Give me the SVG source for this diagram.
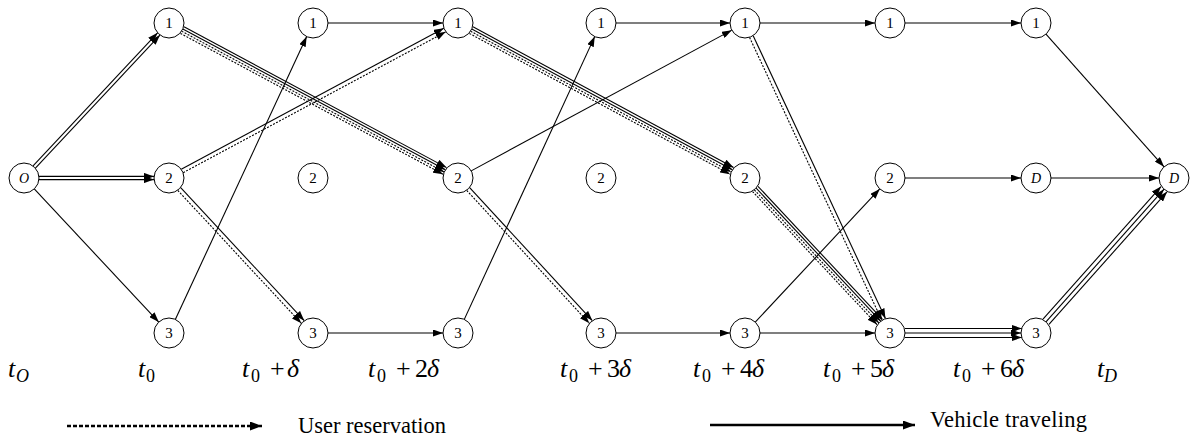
<svg xmlns="http://www.w3.org/2000/svg" width="1192" height="436" viewBox="0 0 1192 436">
<style>
.n circle{fill:#fff;stroke:#000;stroke-width:1}
.n text{font-family:'Times New Roman','Liberation Serif','DejaVu Serif',serif;font-size:15px;text-anchor:middle;fill:#000}
.n text.i{font-style:italic;font-size:14px}
.e{stroke:#000;stroke-width:1.1;fill:none;marker-end:url(#ah)}
.d{stroke-dasharray:2 1.4}
.tl{font-family:'Times New Roman','Liberation Serif','DejaVu Serif',serif;font-size:26px;fill:#000}
.it{font-style:italic}
.sub{font-size:18px}
.lg{font-family:'Times New Roman','Liberation Serif','DejaVu Serif',serif;font-size:22.5px;fill:#000}
</style>
<defs>
<marker id="ah" viewBox="0 0 10 7" refX="10" refY="3.5" markerWidth="10" markerHeight="7" markerUnits="userSpaceOnUse" orient="auto"><path d="M0,0 L10,3.5 L0,7 Z" fill="#000"/></marker>
<marker id="ahL" viewBox="0 0 12 9" refX="12" refY="4.5" markerWidth="12" markerHeight="9" markerUnits="userSpaceOnUse" orient="auto"><path d="M0,0 L12,4.5 L0,9 Z" fill="#000"/></marker>
</defs>
<g id="connectors">
<line class="e" x1="33.08" y1="165.96" x2="157.58" y2="32.86"/>
<line class="e" x1="35.42" y1="168.14" x2="159.92" y2="35.04"/>
<line class="e" x1="39" y1="176.4" x2="154" y2="176.4"/>
<line class="e" x1="39" y1="179.6" x2="154" y2="179.6"/>
<line class="e" x1="34.25" y1="188.95" x2="158.75" y2="322.05"/>
<line class="e" x1="183.99" y1="26.79" x2="446.55" y2="167.61"/>
<line class="e" x1="182.81" y1="28.99" x2="445.37" y2="169.81"/>
<line class="e d" x1="181.63" y1="31.19" x2="444.19" y2="172.01"/>
<line class="e d" x1="180.45" y1="33.40" x2="443.01" y2="174.22"/>
<line class="e" x1="181.27" y1="169.15" x2="443.83" y2="28.33"/>
<line class="e d" x1="183.17" y1="172.67" x2="445.73" y2="31.85"/>
<line class="e" x1="180.68" y1="187.63" x2="304.26" y2="320.65"/>
<line class="e d" x1="177.75" y1="190.35" x2="301.33" y2="323.37"/>
<line class="e" x1="175.32" y1="319.40" x2="306.68" y2="36.60"/>
<line class="e" x1="328" y1="23" x2="443" y2="23"/>
<line class="e" x1="328" y1="333" x2="443" y2="333"/>
<line class="e" x1="472.98" y1="26.83" x2="733.58" y2="167.57"/>
<line class="e" x1="471.79" y1="29.03" x2="732.39" y2="169.77"/>
<line class="e d" x1="470.61" y1="31.23" x2="731.21" y2="171.97"/>
<line class="e d" x1="469.42" y1="33.43" x2="730.02" y2="174.17"/>
<line class="e" x1="471.20" y1="170.87" x2="731.80" y2="30.13"/>
<line class="e" x1="469.64" y1="187.66" x2="592.30" y2="320.62"/>
<line class="e d" x1="466.70" y1="190.38" x2="589.36" y2="323.34"/>
<line class="e" x1="464.28" y1="319.38" x2="594.72" y2="36.62"/>
<line class="e" x1="616" y1="23" x2="730" y2="23"/>
<line class="e" x1="616" y1="333" x2="730" y2="333"/>
<line class="e" x1="760" y1="23" x2="875" y2="23"/>
<line class="e" x1="753.17" y1="35.74" x2="885.45" y2="318.56"/>
<line class="e d" x1="749.55" y1="37.44" x2="881.83" y2="320.26"/>
<line class="e" x1="757.99" y1="186.39" x2="882.49" y2="319.49"/>
<line class="e" x1="756.16" y1="188.10" x2="880.66" y2="321.20"/>
<line class="e d" x1="754.34" y1="189.80" x2="878.84" y2="322.90"/>
<line class="e d" x1="752.51" y1="191.51" x2="877.01" y2="324.61"/>
<line class="e" x1="755.25" y1="322.05" x2="879.75" y2="188.95"/>
<line class="e" x1="760" y1="333" x2="875" y2="333"/>
<line class="e" x1="905" y1="23" x2="1021" y2="23"/>
<line class="e" x1="905" y1="178" x2="1021" y2="178"/>
<line class="e" x1="905" y1="328.5" x2="1022" y2="328.5"/>
<line class="e" x1="905" y1="333" x2="1021" y2="333"/>
<line class="e" x1="905" y1="337.5" x2="1022" y2="337.5"/>
<line class="e" x1="1045.97" y1="34.20" x2="1164.03" y2="166.80"/>
<line class="e" x1="1051" y1="178" x2="1159" y2="178"/>
<line class="e" x1="1042.98" y1="319.14" x2="1161.04" y2="186.54"/>
<line class="e" x1="1045.97" y1="321.80" x2="1164.03" y2="189.20"/>
<line class="e" x1="1048.96" y1="324.46" x2="1167.02" y2="191.86"/>
</g>
<g id="node-O" class="n"><circle cx="24" cy="178" r="15"/><text class="i" x="24" y="183">O</text></g>
<g id="node-t0-1" class="n"><circle cx="169" cy="23" r="15"/><text x="169" y="28">1</text></g>
<g id="node-t0-2" class="n"><circle cx="169" cy="178" r="15"/><text x="169" y="183">2</text></g>
<g id="node-t0-3" class="n"><circle cx="169" cy="333" r="15"/><text x="169" y="338">3</text></g>
<g id="node-t1-1" class="n"><circle cx="313" cy="23" r="15"/><text x="313" y="28">1</text></g>
<g id="node-t1-2" class="n"><circle cx="313" cy="178" r="15"/><text x="313" y="183">2</text></g>
<g id="node-t1-3" class="n"><circle cx="313" cy="333" r="15"/><text x="313" y="338">3</text></g>
<g id="node-t2-1" class="n"><circle cx="458" cy="23" r="15"/><text x="458" y="28">1</text></g>
<g id="node-t2-2" class="n"><circle cx="458" cy="178" r="15"/><text x="458" y="183">2</text></g>
<g id="node-t2-3" class="n"><circle cx="458" cy="333" r="15"/><text x="458" y="338">3</text></g>
<g id="node-t3-1" class="n"><circle cx="601" cy="23" r="15"/><text x="601" y="28">1</text></g>
<g id="node-t3-2" class="n"><circle cx="601" cy="178" r="15"/><text x="601" y="183">2</text></g>
<g id="node-t3-3" class="n"><circle cx="601" cy="333" r="15"/><text x="601" y="338">3</text></g>
<g id="node-t4-1" class="n"><circle cx="745" cy="23" r="15"/><text x="745" y="28">1</text></g>
<g id="node-t4-2" class="n"><circle cx="745" cy="178" r="15"/><text x="745" y="183">2</text></g>
<g id="node-t4-3" class="n"><circle cx="745" cy="333" r="15"/><text x="745" y="338">3</text></g>
<g id="node-t5-1" class="n"><circle cx="890" cy="23" r="15"/><text x="890" y="28">1</text></g>
<g id="node-t5-2" class="n"><circle cx="890" cy="178" r="15"/><text x="890" y="183">2</text></g>
<g id="node-t5-3" class="n"><circle cx="890" cy="333" r="15"/><text x="890" y="338">3</text></g>
<g id="node-t6-1" class="n"><circle cx="1036" cy="23" r="15"/><text x="1036" y="28">1</text></g>
<g id="node-t6-D" class="n"><circle cx="1036" cy="178" r="15"/><text class="i" x="1036" y="183">D</text></g>
<g id="node-t6-3" class="n"><circle cx="1036" cy="333" r="15"/><text x="1036" y="338">3</text></g>
<g id="node-D" class="n"><circle cx="1174" cy="178" r="15"/><text class="i" x="1174" y="183">D</text></g>
<g id="time-labels">
<text class="tl" y="377"><tspan class="it" x="8">t</tspan><tspan class="it sub" x="16" dy="5">O</tspan></text>
<text class="tl" y="377"><tspan class="it" x="138">t</tspan><tspan class="sub" x="146" dy="5">0</tspan></text>
<text class="tl" y="377"><tspan class="it" x="242">t</tspan><tspan class="sub" x="251" dy="5">0</tspan><tspan x="270" dy="-5">+</tspan><tspan class="it" x="287">δ</tspan></text>
<text class="tl" y="377"><tspan class="it" x="368">t</tspan><tspan class="sub" x="377" dy="5">0</tspan><tspan x="396" dy="-5">+</tspan><tspan x="415">2</tspan><tspan class="it" x="427">δ</tspan></text>
<text class="tl" y="377"><tspan class="it" x="560">t</tspan><tspan class="sub" x="569" dy="5">0</tspan><tspan x="588" dy="-5">+</tspan><tspan x="607">3</tspan><tspan class="it" x="619">δ</tspan></text>
<text class="tl" y="377"><tspan class="it" x="693">t</tspan><tspan class="sub" x="702" dy="5">0</tspan><tspan x="721" dy="-5">+</tspan><tspan x="740">4</tspan><tspan class="it" x="752">δ</tspan></text>
<text class="tl" y="377"><tspan class="it" x="823">t</tspan><tspan class="sub" x="832" dy="5">0</tspan><tspan x="851" dy="-5">+</tspan><tspan x="870">5</tspan><tspan class="it" x="882">δ</tspan></text>
<text class="tl" y="377"><tspan class="it" x="953">t</tspan><tspan class="sub" x="962" dy="5">0</tspan><tspan x="981" dy="-5">+</tspan><tspan x="1000">6</tspan><tspan class="it" x="1012">δ</tspan></text>
<text class="tl" y="377"><tspan class="it" x="1097">t</tspan><tspan class="it sub" x="1104" dy="5">D</tspan></text>
</g>
<g id="legend">
<line x1="67" y1="426" x2="262" y2="426" stroke="#000" stroke-width="2.5" stroke-dasharray="4 2" marker-end="url(#ahL)"/>
<text class="lg" x="298" y="433">User reservation</text>
<line x1="710" y1="425" x2="915" y2="425" stroke="#000" stroke-width="2.5" marker-end="url(#ahL)"/>
<text class="lg" x="930" y="427" textLength="157">Vehicle traveling</text>
</g>
</svg>
